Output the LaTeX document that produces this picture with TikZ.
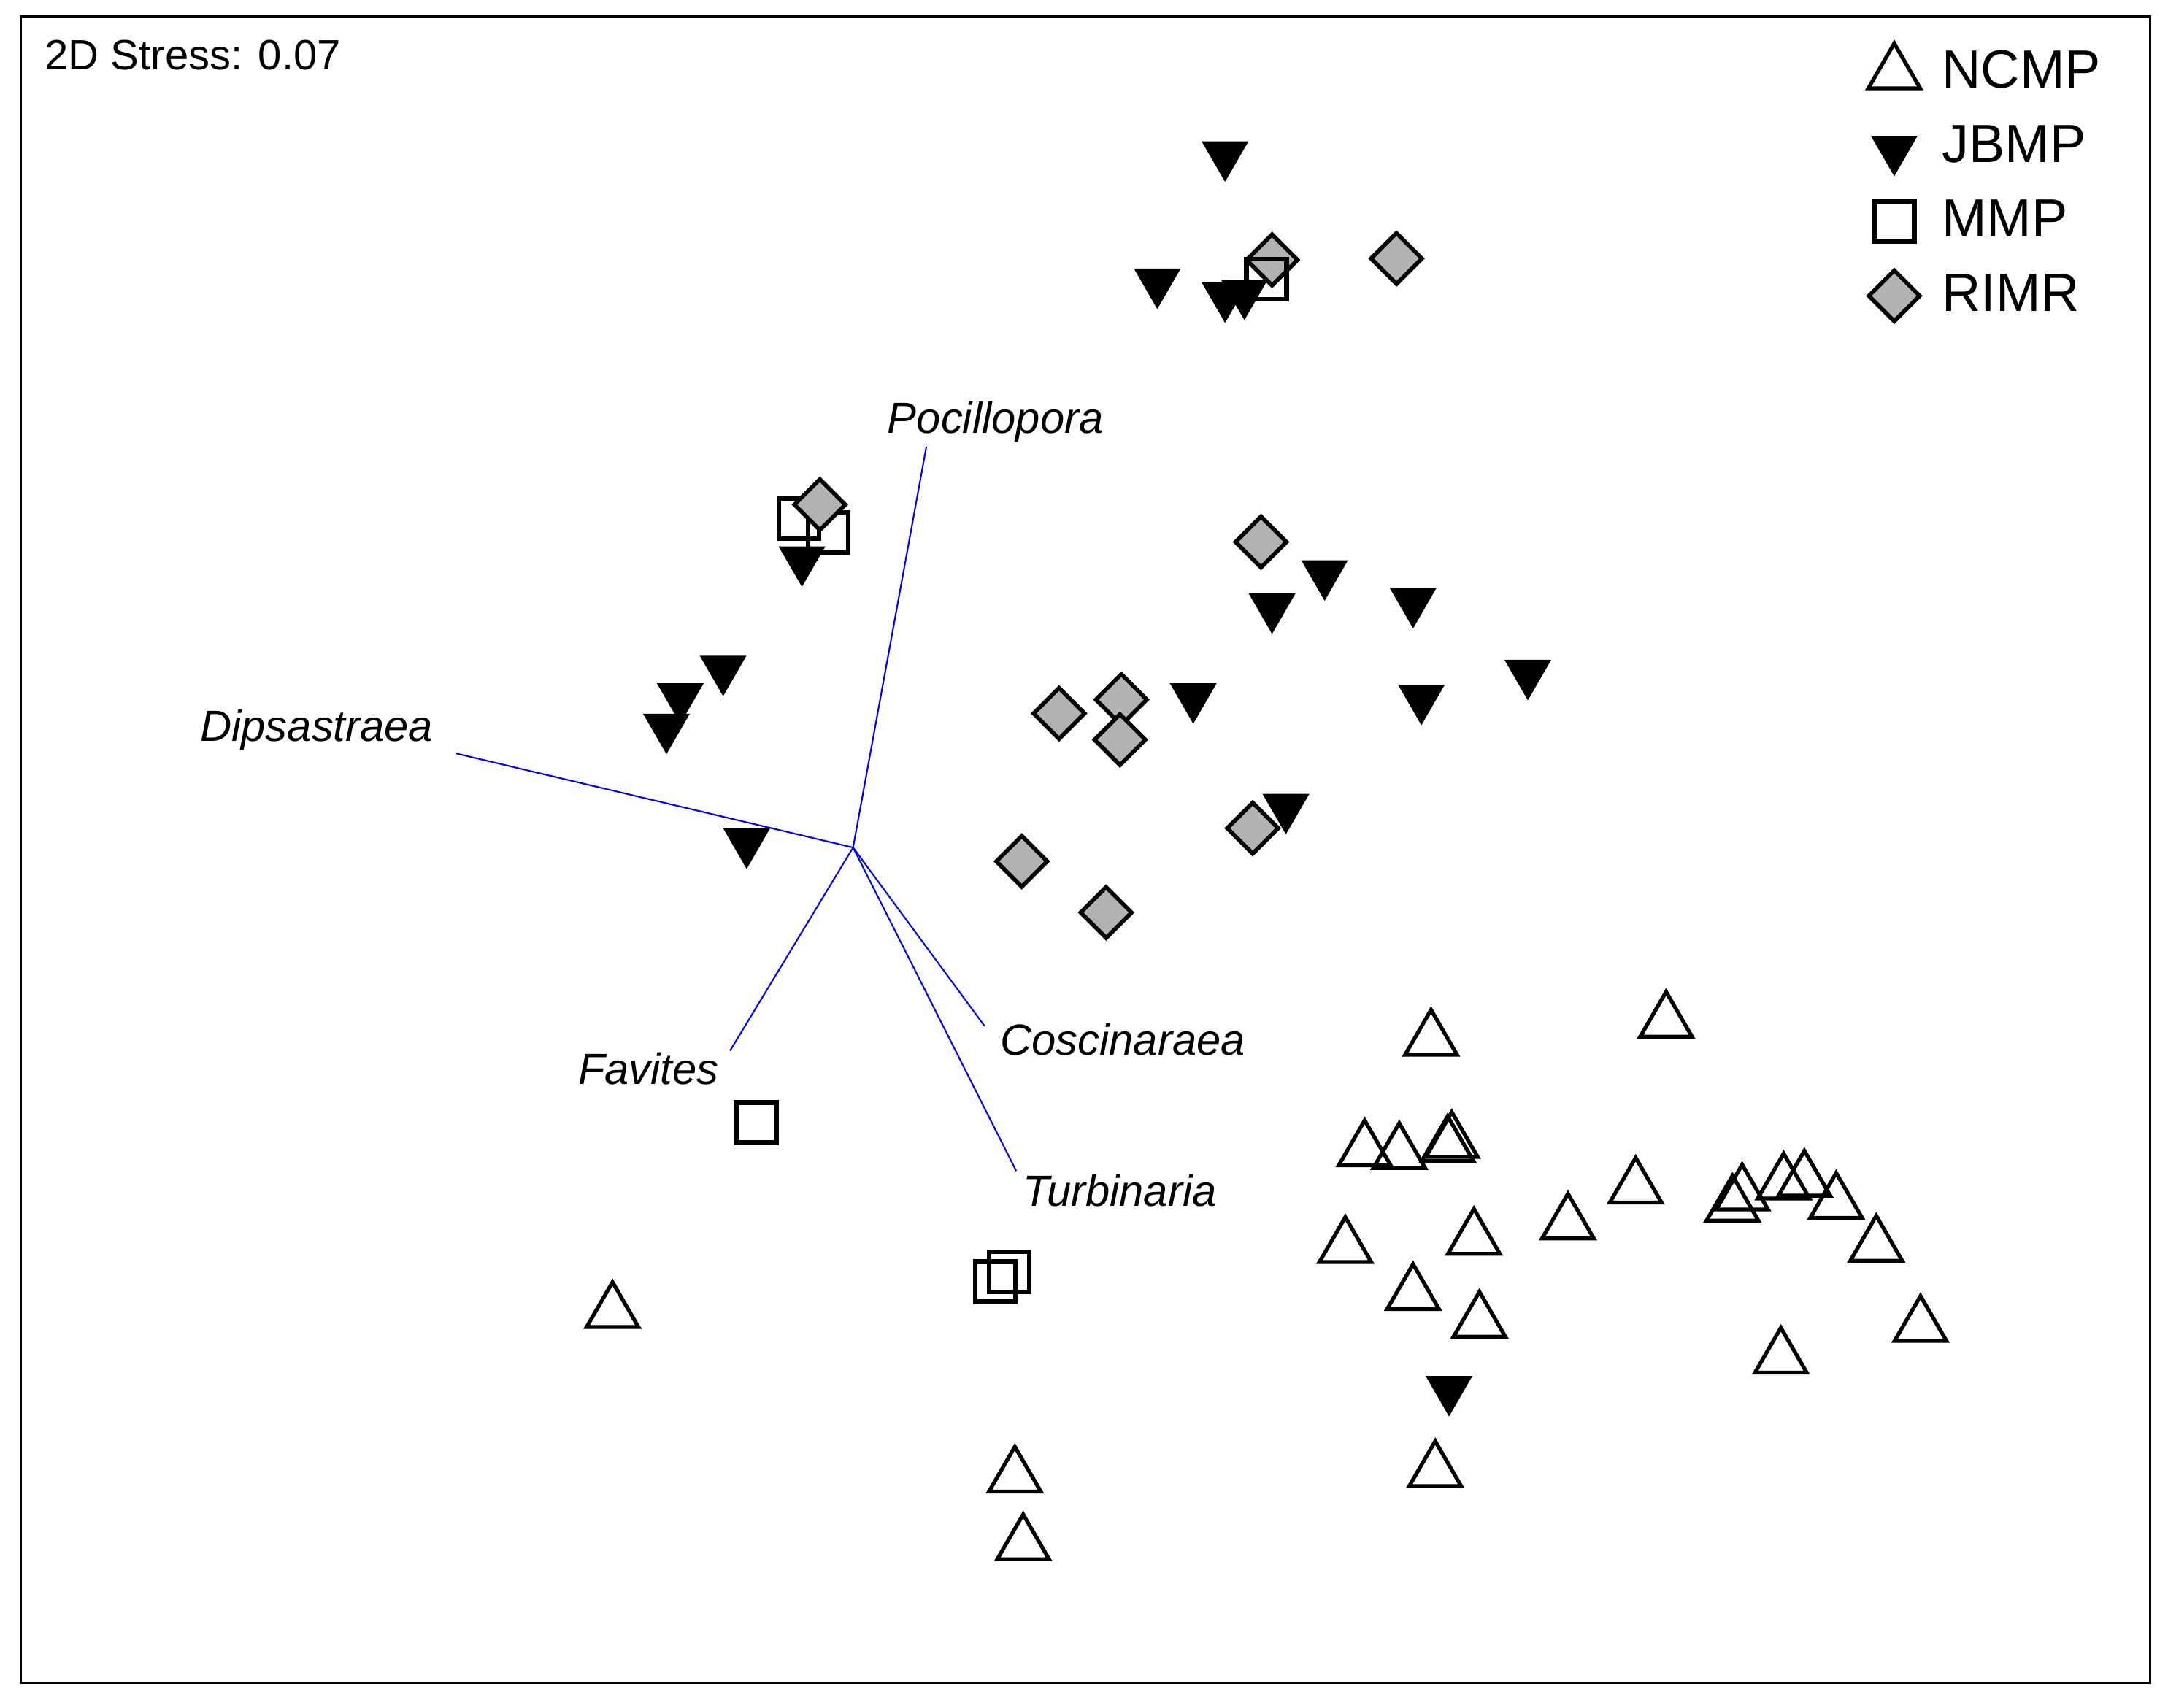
\documentclass[tikz,border=0pt]{standalone}
\usepackage{fontspec}
\setmainfont{Liberation Sans}
\usetikzlibrary{shapes.geometric}
\tikzset{
  ncmp/.style={draw, regular polygon, regular polygon sides=3, minimum size=0.82cm, inner sep=0pt, line width=1.5pt},
  jbmp/.style={fill, regular polygon, regular polygon sides=3, shape border rotate=180, minimum size=0.74cm, inner sep=0pt},
  mmp/.style={draw, rectangle, minimum size=0.55cm, inner sep=0pt, line width=1.8pt},
  rimr/.style={draw, diamond, fill=gray!60, minimum size=0.72cm, inner sep=0pt, line width=1.6pt},
  vec/.style={blue, line width=0.6pt},
  species/.style={font=\fontsize{17}{19}\selectfont\itshape},
  keytext/.style={anchor=west, font=\fontsize{21}{24}\selectfont},
}
\begin{document}
\begin{tikzpicture}[x=0.01894cm, y=-0.01894cm]
    \useasboundingbox (0,0) rectangle (1568,1235);
    \draw[line width=0.8pt] (15,12) rectangle (1555,1217);
    \node[anchor=west, font=\fontsize{16.5}{19}\selectfont] (stress) at (26,40) {2D Stress: 0.07};

    % vectors
    \coordinate (origin) at (617,613);
    \coordinate (pocillopora end) at (670,323);
    \coordinate (dipsastraea end) at (330,545);
    \coordinate (favites end) at (528,760);
    \coordinate (coscinaraea end) at (712,742);
    \coordinate (turbinaria end) at (735,847);
    \draw[vec] (origin) -- (pocillopora end);
    \draw[vec] (origin) -- (dipsastraea end);
    \draw[vec] (origin) -- (favites end);
    \draw[vec] (origin) -- (coscinaraea end);
    \draw[vec] (origin) -- (turbinaria end);
    \node[species] (Pocillopora) at (720,305) {Pocillopora};
    \node[species] (Dipsastraea) at (229,528) {Dipsastraea};
    \node[species] (Favites)     at (469,773) {Favites};
    \node[species] (Coscinaraea) at (812,752) {Coscinaraea};
    \node[species] (Turbinaria)  at (810,861) {Turbinaria};

    % samples
    \foreach \x/\y [count=\i] in {1035/752,1205/739,987/832,1012/834,1047/829,1050/826,973/902,1066/896,1134/885,1183/859,1022/936,1070/956,1260/864,1253/872,1290/856,1305/854,1328/870,1357/901,1389/959,1288/982,443/949,734/1068,740/1117,1038/1064}
        \node[ncmp] (ncmp \i) at (\x,\y) {};
    \foreach \x/\y [count=\i] in {886/112,837/204,886/214,900/212,580/405,523/484,492/504,482/526,540/609,958/415,920/439,1022/435,863/504,1028/505,1105/487,930/584,1048/1005}
        \node[jbmp] (jbmp \i) at (\x,\y) {};
    \foreach \x/\y [count=\i] in {578/375,599/385,547/812,730/920,720/927}
        \node[mmp] (mmp \i) at (\x,\y) {};
    \foreach \x/\y [count=\i] in {920/188,1010/187,593/365,912/392,766/516,811/506,810/535,906/599,739/623,800/660}
        \node[rimr] (rimr \i) at (\x,\y) {};
    \node[mmp] (mmp 6) at (916,202) {};

    % legend
    \node[ncmp] (key ncmp) at (1370,53) {};
    \node[jbmp] (key jbmp) at (1370,108) {};
    \node[mmp]  (key mmp)  at (1370,160) {};
    \node[rimr] (key rimr) at (1370,214) {};
    \node[keytext] (NCMP) at (1398,50)  {NCMP};
    \node[keytext] (JBMP) at (1398,104) {JBMP};
    \node[keytext] (MMP)  at (1398,158) {MMP};
    \node[keytext] (RIMR) at (1398,212) {RIMR};
\end{tikzpicture}
\end{document}
